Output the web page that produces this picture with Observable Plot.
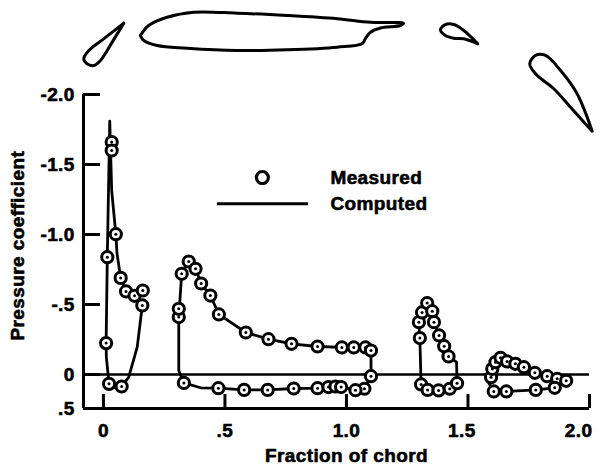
<!DOCTYPE html>
<html><head><meta charset="utf-8">
<script src="https://cdn.jsdelivr.net/npm/d3@7"></script>
<script src="https://cdn.jsdelivr.net/npm/@observablehq/plot@0.6"></script>
<style>html,body{margin:0;background:#fff}text{letter-spacing:.4px}</style></head><body><div id="chart"></div>
<script>
const measuredX = [.011,.016,.034,.034,.051,.071,.093,.128,.162,.160,.023,.075,
 .310,.310,.322,.351,.379,.402,.440,.475,.586,.679,.774,.881,.981,1.030,1.078,1.101,1.101,.331,.473,.579,.676,.783,.881,.926,.955,.978,1.074,1.037,
 1.302,1.298,1.311,1.332,1.353,1.360,1.381,1.402,1.420,1.307,1.334,1.379,1.425,1.455,
 1.595,1.600,1.613,1.634,1.661,1.695,1.730,1.775,1.826,1.867,1.904,1.857,1.779,1.658,1.606];
const measuredY = [-.224,-.838,-1.66,-1.60,-1.002,-.69,-.593,-.562,-.60,-.493,.067,.086,
 -.41,-.469,-.719,-.807,-.755,-.65,-.564,-.429,-.30,-.252,-.219,-.20,-.193,-.193,-.193,-.171,.012,.06,.098,.11,.11,.10,.098,.09,.086,.09,.102,.112,
 -.26,-.374,-.443,-.51,-.452,-.374,-.279,-.202,-.129,.071,.11,.114,.102,.062,
 .019,-.04,-.088,-.119,-.093,-.076,-.052,-.012,.012,.031,.045,.095,.11,.121,.121];

const computedX = [.160,.139,.104,.075,.05,.023,.012,.011,.016,.026,.034,.051,.056,.071,.093,.128,.160, null,
 1.101,1.101,1.074,1.037,.978,.881,.783,.676,.579,.473,.40,.331,.31,.31,.322,.351,.379,.402,.440,.475,.586,.679,.774,.881,.981,1.030,1.078,1.101, null,
 1.42,1.453,1.455,1.425,1.379,1.334,1.307,1.302,1.298,1.311,1.332,1.353,1.36,1.381,1.402,1.42, null,
 1.904,1.857,1.779,1.658,1.606,1.585,1.595,1.6,1.613,1.634,1.661,1.695,1.73,1.775,1.826,1.867,1.904];
const computedY = [-.493,-.195,.019,.086,.095,.067,-.124,-.224,-.838,-1.81,-1.314,-1.002,-.862,-.69,-.593,-.562,-.493, null,
 -.171,.012,.102,.112,.09,.098,.10,.11,.11,.098,.095,.06,-.029,-.41,-.719,-.807,-.755,-.65,-.564,-.429,-.30,-.252,-.219,-.20,-.193,-.193,-.193,-.171, null,
 -.129,-.088,.062,.102,.114,.11,.071,-.26,-.374,-.443,-.51,-.452,-.374,-.279,-.202,-.129, null,
 .045,.095,.11,.121,.121,.06,.019,-.04,-.088,-.119,-.093,-.076,-.052,-.012,.012,.031,.045];

const slatX = [.084,.001,-.06,-.081,-.067,-.04,-.012,.036,.084];
const slatY = [-2.51,-2.397,-2.314,-2.255,-2.219,-2.207,-2.243,-2.374,-2.51];
const mainX = [.152,.186,.262,.372,.55,.756,.962,1.099,1.235,1.222,1.14,1.10,1.078,1.066,.962,.756,.55,.344,.221,.166,.152];
const mainY = [-2.421,-2.493,-2.552,-2.588,-2.581,-2.564,-2.541,-2.516,-2.509,-2.493,-2.475,-2.446,-2.40,-2.365,-2.338,-2.319,-2.314,-2.331,-2.35,-2.386,-2.421];
const vaneX = [1.54,1.483,1.442,1.407,1.387,1.407,1.442,1.483,1.54];
const vaneY = [-2.362,-2.457,-2.5,-2.5,-2.462,-2.421,-2.402,-2.398,-2.362];
const flapX = [2.011,1.949,1.881,1.819,1.778,1.754,1.778,1.853,1.922,2.011];
const flapY = [-1.738,-2.005,-2.171,-2.279,-2.279,-2.219,-2.148,-2.041,-1.909,-1.738];

const xTicks = [0,.5,1,1.5,2];
const xLabelAt = [0,.5,1,1.475,1.955];
const xLabels = ["0",".5","1.0","1.5","2.0"];
const yTicks = [-2,-1.5,-1,-.5,0,.243];
const yLabels = ["-2.0","-1.5","-1.0","-.5","0",".5"];
const xMin = -.082, xMax = 2, yMin = -2, yBase = .243;

const pts = (xs, ys) => xs.map((x, i) => ({x, y: ys[i]}));
const measured = pts(measuredX, measuredY);
const outline = (xs, ys, w) => Plot.line(pts(xs, ys), {x:"x", y:"y", stroke:"#000", strokeWidth:w, curve:"catmull-rom", clip:false});
const bold = {fontSize:19, fontWeight:"bold", stroke:"#000", strokeWidth:.6, fill:"#000"};

const fontStyle = {fontFamily:"'Liberation Sans',Arial,sans-serif", fontWeight:"bold", fontSize:"19px", background:"#fff", color:"#000", display:"block"};

const chart = Plot.plot({
  width:601, height:465,
  marginTop:94, marginBottom:57, marginLeft:83, marginRight:12,
  style:fontStyle,
  x:{domain:[xMin,xMax], axis:null},
  y:{domain:[yMin,yBase], range:[94,408], axis:null},
  marks:[
    outline(slatX,slatY,3), outline(mainX,mainY,3), outline(vaneX,vaneY,3), outline(flapX,flapY,3),
    Plot.ruleX([xMin],{y1:yMin,y2:yBase,stroke:"#000",strokeWidth:3}),
    Plot.ruleY([yBase],{x1:xMin,x2:xMax,stroke:"#000",strokeWidth:3}),
    Plot.ruleY(yTicks.slice(0,5),{x1:xMin,x2:-.012,stroke:"#000",strokeWidth:3}),
    Plot.ruleX(xTicks,{y1:yBase,y2:.143,stroke:"#000",strokeWidth:3}),
    Plot.ruleY([0],{x1:xMin,x2:xMax,stroke:"#000",strokeWidth:2.4}),
    Plot.text(xLabelAt,{x:d=>d,y:.4,text:(d,i)=>xLabels[i],...bold}),
    Plot.text(yTicks,{x:-.118,y:d=>d,text:(d,i)=>yLabels[i],textAnchor:"end",...bold}),
    Plot.text(["Fraction of chord"],{x:1,y:.579,text:d=>d,...bold}),
    Plot.text(["Pressure coefficient"],{x:-.35,y:-.92,text:d=>d,rotate:-90,...bold}),
    Plot.line(pts(computedX,computedY),{x:"x",y:"y",stroke:"#000",strokeWidth:2.8,curve:"linear"}),
    Plot.dot(measured,{x:"x",y:"y",r:5.6,fill:"#fff",stroke:"#000",strokeWidth:3}),
    Plot.dot(measured,{x:"x",y:"y",r:1.5,fill:"#000"}),
    Plot.dot([{x:.654,y:-1.407}],{x:"x",y:"y",r:6,fill:"#fff",stroke:"#000",strokeWidth:3.2}),
    Plot.ruleY([-1.22],{x1:.469,x2:.844,stroke:"#000",strokeWidth:3}),
    Plot.text([{x:.934,y:-1.407,t:"Measured"},{x:.934,y:-1.22,t:"Computed"}],{x:"x",y:"y",text:"t",textAnchor:"start",...bold})
  ]
});
document.getElementById("chart").append(chart);
</script></body></html>
